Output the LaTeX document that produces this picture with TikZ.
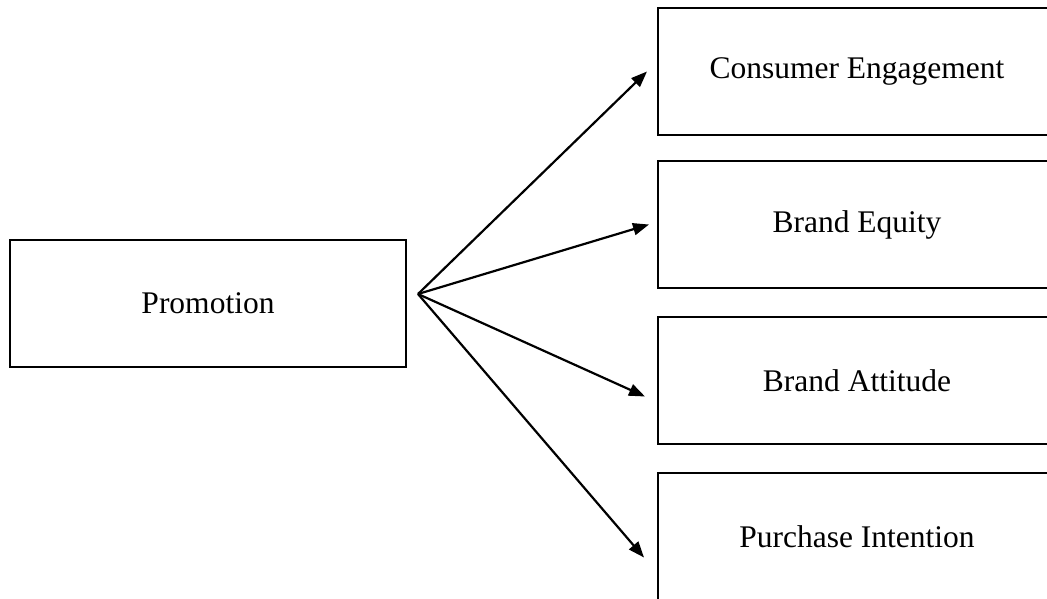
\documentclass[tikz,border=0pt]{standalone}
\usepackage{fontspec}
\setmainfont{Liberation Serif}
\usepackage{tikz}
\usetikzlibrary{arrows.meta,positioning}

\tikzset{
  factorbox/.style={
    draw=black,
    line width=2.6pt,
    minimum width=398pt,
    minimum height=127pt,
    inner sep=0pt,
    outer sep=0pt,
    font=\fontsize{31.5}{36}\selectfont
  },
  linkarrow/.style={
    line width=2.2pt,
    -{Triangle[length=16pt,width=12pt]}
  }
}

\begin{document}
\begin{tikzpicture}[x=1pt,y=-1pt]
\useasboundingbox (0,0) rectangle (1047,599);
\clip (0,0) rectangle (1047,599);

% independent variable
\node[factorbox, minimum width=396pt] (promotion) at (208,303.5) {Promotion};
\coordinate (hub) at ([xshift=12pt,yshift=9.5pt]promotion.east);

% outcomes
\node[factorbox] (engagement) at (857,71.5) {Consumer Engagement};
\node[factorbox, below=26pt of engagement] (equity) {Brand Equity};
\node[factorbox, below=29pt of equity] (attitude) {Brand Attitude};
\node[factorbox, below=29pt of attitude] (intention) {Purchase Intention};

\draw[linkarrow] (hub) -- ([xshift=-11pt]engagement.west);
\draw[linkarrow] (hub) -- ([xshift=-9pt]equity.west);
\draw[linkarrow] (hub) -- ([xshift=-13pt,yshift=-16pt]attitude.west);
\draw[linkarrow] (hub) -- ([xshift=-14pt,yshift=-21pt]intention.west);
\end{tikzpicture}
\end{document}
